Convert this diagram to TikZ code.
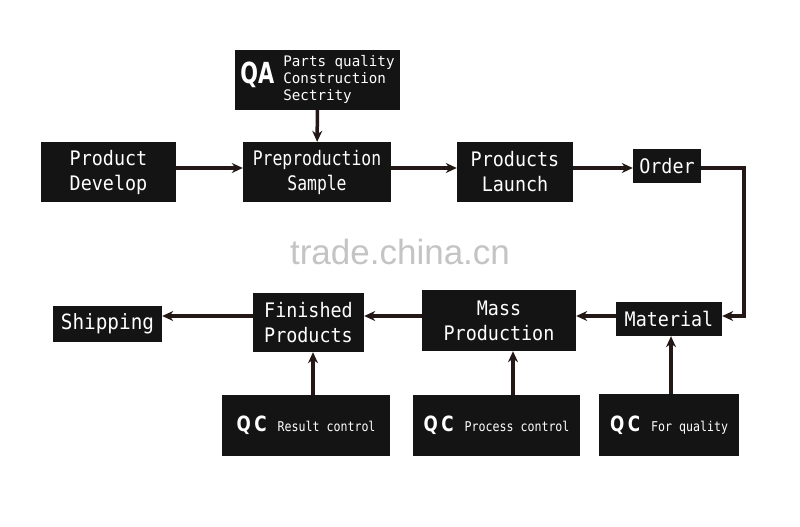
\documentclass[tikz,border=0pt]{standalone}
\usepackage{fontspec}
\setmainfont{DejaVu Sans Mono}
\newfontfamily\lblfont[FakeStretch=0.92]{DejaVu Sans Mono}
\newfontfamily\lblnarrow[FakeStretch=0.82]{DejaVu Sans Mono}
\newfontfamily\smallfont[FakeStretch=0.98]{DejaVu Sans Mono}
\newfontfamily\qcsmallfont[FakeStretch=0.86]{DejaVu Sans Mono}
\newfontfamily\bigfont[FakeStretch=0.8]{DejaVu Sans}
\newfontfamily\qafont[FakeStretch=0.72]{DejaVu Sans}
\newfontfamily\wmfont{Liberation Sans}
\usetikzlibrary{arrows.meta}
\definecolor{boxblack}{HTML}{141414}
\definecolor{arrowc}{HTML}{231815}
\definecolor{wmgray}{HTML}{C4C4C4}
\newcommand{\QCmark}{{\bigfont\bfseries\fontsize{21}{21}\selectfont Q\,C}\hspace{11pt}}
\begin{document}
\begin{tikzpicture}[x=1pt,y=-1pt,
  box/.style={fill=boxblack, text=white, inner sep=0pt, align=center,
    font=\lblfont\fontsize{20}{25}\selectfont},
  qcbox/.style={box, font=\qcsmallfont\fontsize{13.5}{16}\selectfont},
  arr/.style={draw=arrowc, line width=3.5pt, -{Stealth[length=11pt,width=10pt]}}]
\useasboundingbox[fill=white] (0,0) rectangle (800,527);

\node[font=\wmfont\fontsize{35}{35}\selectfont, text=wmgray] (wm) at (400,252) {trade.china.cn};

\node[box, minimum width=165pt, minimum height=60pt] (qa) at (317.5,80)
  {{\qafont\bfseries\fontsize{29}{29}\selectfont QA}\hspace{9pt}{\smallfont\fontsize{14.5}{17}\selectfont\begin{tabular}{@{}l@{}}Parts quality\\Construction\\Sectrity\end{tabular}}};

\node[box, minimum width=135pt, minimum height=60pt] (pd) at (108.5,172) {Product\\Develop};
\node[box, minimum width=148pt, minimum height=60pt, font=\lblnarrow\fontsize{20}{25}\selectfont] (pp) at (317,172) {Preproduction\\Sample};
\node[box, minimum width=116pt, minimum height=60pt] (pl) at (515,172) {Products\\Launch};
\node[box, minimum width=68pt, minimum height=34pt] (ord) at (667,166) {Order};

\node[box, minimum width=106pt, minimum height=34pt] (mat) at (669,319) {Material};
\node[box, minimum width=154pt, minimum height=61pt] (mass) at (499,320.5) {Mass\\Production};
\node[box, minimum width=111pt, minimum height=59pt] (fin) at (308.5,322.5) {Finished\\Products};
\node[box, minimum width=109pt, minimum height=36pt, font=\lblfont\fontsize{21}{25}\selectfont] (ship) at (107.5,324) {Shipping};

\node[qcbox, minimum width=168pt, minimum height=61pt] (qc1) at (306,425.5) {\QCmark Result control};
\node[qcbox, minimum width=167pt, minimum height=61pt] (qc2) at (496.5,425.5) {\QCmark Process control};
\node[qcbox, minimum width=140pt, minimum height=62pt] (qc3) at (669,425) {\QCmark For quality};

\draw[arr] (qa) -- (pp);
\draw[arr] ([yshift=4pt]pd.east) -- ([yshift=4pt]pp.west);
\draw[arr] ([yshift=4pt]pp.east) -- ([yshift=4pt]pl.west);
\draw[arr] ([yshift=4pt]pl.east) -- ([yshift=-2pt]ord.west);
\draw[arr] ([yshift=-2pt]ord.east) -- ++(43,0) |- ([yshift=3pt]mat.east);
\draw[arr] ([yshift=3pt]mat.west) -- ([yshift=4.5pt]mass.east);
\draw[arr] ([yshift=4.5pt]mass.west) -- ([yshift=6.5pt]fin.east);
\draw[arr] ([yshift=6.5pt]fin.west) -- ([yshift=8pt]ship.east);
\draw[arr] ([xshift=7pt]qc1.north) -- ([xshift=4.5pt]fin.south);
\draw[arr] ([xshift=16.5pt]qc2.north) -- ([xshift=14pt]mass.south);
\draw[arr] ([xshift=2pt]qc3.north) -- ([xshift=2pt]mat.south);
\end{tikzpicture}
\end{document}
